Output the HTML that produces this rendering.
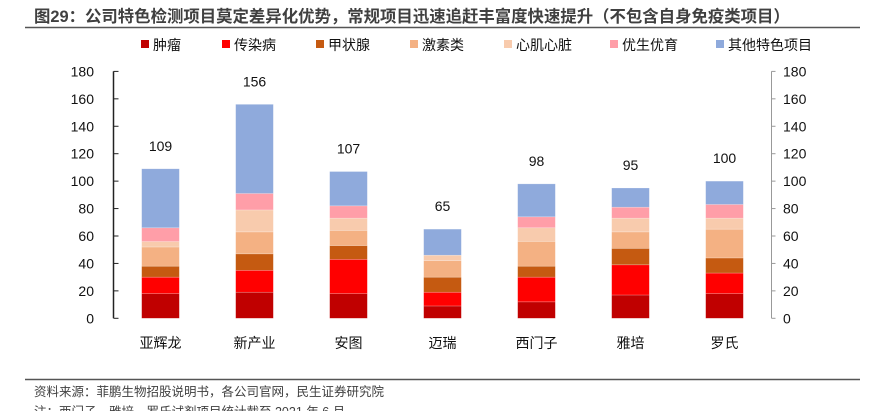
<!DOCTYPE html>
<html><head><meta charset="utf-8"><style>
body{margin:0;background:#fff;width:877px;height:411px;overflow:hidden;font-family:"Liberation Sans","Noto Sans CJK SC",sans-serif}
svg text{font-family:"Liberation Sans","Noto Sans CJK SC",sans-serif}
</style></head><body>
<svg id="c" width="877" height="411">
<text x="34" y="22" font-size="16.4" font-weight="bold" fill="#404040">图29：公司特色检测项目莫定差异化优势，常规项目迅速追赶丰富度快速提升（不包含自身免疫类项目）</text>
<line x1="25" y1="27.5" x2="860" y2="27.5" stroke="#555" stroke-width="1.5"/>
<g id="legend"></g>
<g id="plot"></g>
<line x1="25" y1="379.5" x2="860" y2="379.5" stroke="#555" stroke-width="1.5"/>
<text x="34" y="396" font-size="12.5" fill="#404040">资料来源：菲鹏生物招股说明书，各公司官网，民生证券研究院</text>
<text x="34" y="416" font-size="12.5" fill="#404040">注：西门子、雅培、罗氏试剂项目统计截至 2021 年 6 月</text>
</svg>
<script>
const categories=["亚辉龙","新产业","安图","迈瑞","西门子","雅培","罗氏"];
const seriesNames=["肿瘤","传染病","甲状腺","激素类","心肌心脏","优生优育","其他特色项目"];
const tumor=[18,19,18,9,12,17,18];
const infect=[12,16,25,10,18,22,15];
const thyroid=[8,12,10,11,8,12,11];
const hormone=[14,16,11,12,18,12,21];
const cardiac=[4,16,9,4,10,10,8];
const eugenics=[10,12,9,0,8,8,10];
const other=[43,65,25,19,24,14,17];
const totals=[109,156,107,65,98,95,100];
const ticks=[0,20,40,60,80,100,120,140,160,180];
const colors=["#C00000","#FF0000","#C55A11","#F4B183","#F8CBAD","#FF9EA8","#8FAADC"];
const series=[tumor,infect,thyroid,hormone,cardiac,eugenics,other];
const NS="http://www.w3.org/2000/svg";
const L=113.5,R=771.5,B=318.3,T=71.4;
const y=v=>B-(v/180)*(B-T);
const band=(R-L)/categories.length;
const x=i=>L+band*(i+0.5);
const bw=37.7;
function mk(t,a,p){const e=document.createElementNS(NS,t);for(const k in a)e.setAttribute(k,a[k]);p.appendChild(e);return e;}
const plot=document.getElementById('plot');
let ax=mk('line',{x1:L,y1:T,x2:L,y2:B,stroke:'#222','stroke-width':1.5},plot);


let ax2=mk('line',{x1:R,y1:T,x2:R,y2:B,stroke:'#999','stroke-width':1},plot);


ticks.forEach(t=>{
  let tl=mk('line',{x1:L,x2:L+5,y1:y(t),y2:y(t),stroke:'#222'},plot);
  
  
  let tr=mk('line',{x1:R,x2:R+4,y1:y(t),y2:y(t),stroke:'#999'},plot);
  
  
  let a=mk('text',{x:94,y:y(t)+5,'font-size':14,'text-anchor':'end',fill:'#111'},plot);a.textContent=t;
  
  
  let b=mk('text',{x:783,y:y(t)+5,'font-size':14,fill:'#111'},plot);b.textContent=t;
  
  
});
categories.forEach((c,i)=>{
  let acc=0;
  series.forEach((s,k)=>{
    const v=s[i];
    if(v>0){
      let r=mk('rect',{x:x(i)-bw/2,y:y(acc+v),width:bw,height:y(acc)-y(acc+v),fill:colors[k],stroke:'#fff','stroke-opacity':0.35,'stroke-width':0.6},plot);
      
      
    }
    acc+=v;
  });
  let lt=mk('text',{x:x(i),y:y(totals[i])-18,'font-size':14,'text-anchor':'middle',fill:'#111'},plot);lt.textContent=totals[i];
  
  
  let cl=mk('text',{x:x(i),y:348,'font-size':14,'text-anchor':'middle',fill:'#111'},plot);cl.textContent=c;
  
  
});
const lg=document.getElementById('legend');
const lx=[141,222,316,410,504,610,716];
seriesNames.forEach((n,k)=>{
  let r=mk('rect',{x:lx[k],y:40,width:8,height:8,fill:colors[k]},lg);
  
  
  let t=mk('text',{x:lx[k]+12,y:50,'font-size':14,fill:'#111'},lg);t.textContent=n;
  
  
});
</script>
</body></html>
